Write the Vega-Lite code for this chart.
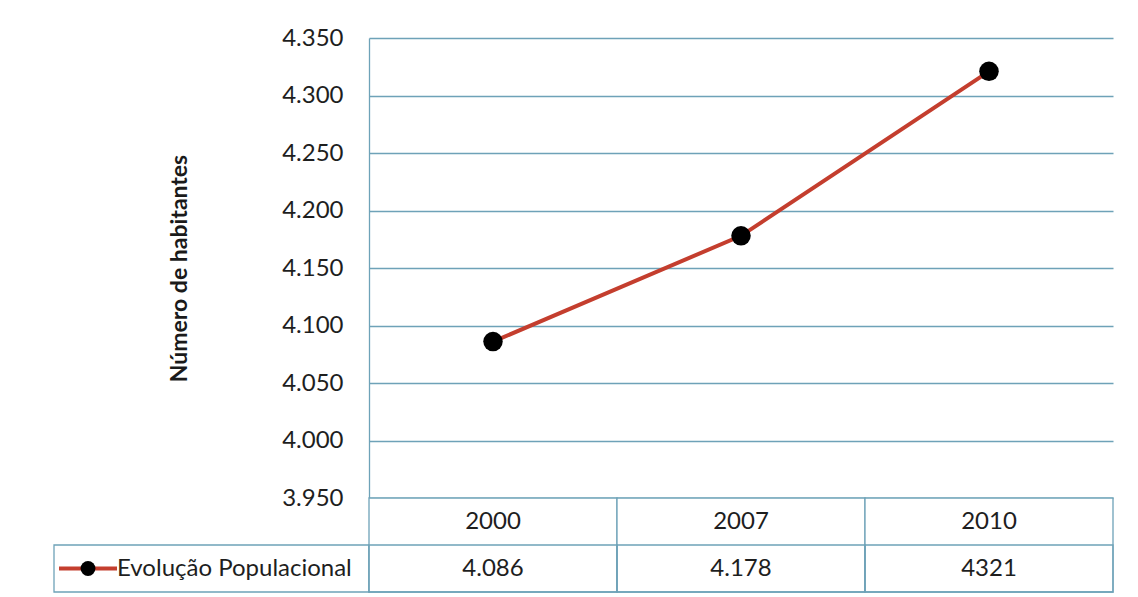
{
  "$schema": "https://vega.github.io/schema/vega-lite/v6.json",
  "background": "white",
  "padding": {"left": 51, "top": 26, "right": 0, "bottom": 0},
  "datasets": {
    "populacao": [
      {"ano": "2000", "habitantes": 4086, "rotulo": "4.086"},
      {"ano": "2007", "habitantes": 4178, "rotulo": "4.178"},
      {"ano": "2010", "habitantes": 4321, "rotulo": "4321"}
    ],
    "legenda": [
      {"serie": "Evolução Populacional"}
    ]
  },
  "columns": 2,
  "spacing": 0,
  "bounds": "flush",
  "concat": [
    {
      "width": 315,
      "height": 460,
      "data": {"values": []},
      "mark": {"type": "text"},
      "encoding": {}
    },
    {
      "width": 744,
      "height": 460,
      "data": {"name": "populacao"},
      "encoding": {
        "x": {
          "field": "ano",
          "type": "ordinal",
          "scale": {"paddingInner": 0, "paddingOuter": 0},
          "axis": null
        },
        "y": {
          "field": "habitantes",
          "type": "quantitative",
          "scale": {"domain": [3950, 4350], "nice": false, "zero": false},
          "axis": {
            "values": [3950, 4000, 4050, 4100, 4150, 4200, 4250, 4300, 4350],
            "labelExpr": "replace(format(datum.value, ','), ',', '.')",
            "title": "Número de habitantes",
            "titleFontSize": 23,
            "titleFontWeight": "bold",
            "titleColor": "#1a1a1a",
            "titleFont": "Lato",
            "titlePadding": 90,
            "labelFont": "Lato",
            "labelFontSize": 24,
            "labelColor": "#1e1e1e",
            "labelPadding": 26,
            "ticks": false,
            "domainColor": "#6ea2b8",
            "domainWidth": 1.3,
            "grid": true,
            "gridColor": "#6ea2b8",
            "gridWidth": 1.3,
            "gridOpacity": 1
          }
        }
      },
      "layer": [
        {
          "mark": {"type": "line", "color": "#c43e2e", "strokeWidth": 4}
        },
        {
          "mark": {"type": "point", "filled": true, "color": "#000000", "opacity": 1, "size": 380}
        }
      ]
    },
    {
      "width": 315,
      "height": 94,
      "data": {"name": "legenda"},
      "encoding": {
        "x": {
          "field": "serie",
          "type": "nominal",
          "scale": {"paddingInner": 0, "paddingOuter": 0},
          "axis": null
        },
        "y": {
          "datum": "valor",
          "type": "nominal",
          "scale": {"domain": ["ano", "valor"], "paddingInner": 0, "paddingOuter": 0},
          "axis": null
        }
      },
      "layer": [
        {
          "mark": {"type": "rect", "fill": "white", "stroke": "#6ea2b8", "strokeWidth": 1.3}
        },
        {
          "mark": {"type": "point", "shape": "M-1,0L1,0", "size": 3364, "stroke": "#c43e2e", "strokeWidth": 4, "opacity": 1},
          "encoding": {
            "x": {"field": "serie", "type": "nominal", "bandPosition": 0.108}
          }
        },
        {
          "mark": {"type": "point", "filled": true, "color": "#000000", "opacity": 1, "size": 220},
          "encoding": {
            "x": {"field": "serie", "type": "nominal", "bandPosition": 0.108}
          }
        },
        {
          "mark": {"type": "text", "align": "left", "baseline": "middle", "font": "Lato", "fontSize": 24, "color": "#1e1e1e"},
          "encoding": {
            "x": {"field": "serie", "type": "nominal", "bandPosition": 0.2},
            "text": {"field": "serie"}
          }
        }
      ]
    },
    {
      "width": 744,
      "height": 94,
      "data": {"name": "populacao"},
      "encoding": {
        "x": {
          "field": "ano",
          "type": "ordinal",
          "scale": {"paddingInner": 0, "paddingOuter": 0},
          "axis": null
        }
      },
      "layer": [
        {
          "mark": {"type": "rect", "fill": "white", "stroke": "#6ea2b8", "strokeWidth": 1.3}
        },
        {
          "mark": {"type": "rect", "fill": "transparent", "stroke": "#6ea2b8", "strokeWidth": 1.3},
          "encoding": {
            "y": {
              "datum": "valor",
              "type": "nominal",
              "scale": {"domain": ["ano", "valor"], "paddingInner": 0, "paddingOuter": 0},
              "axis": null
            }
          }
        },
        {
          "mark": {"type": "text", "baseline": "middle", "font": "Lato", "fontSize": 24, "color": "#1e1e1e"},
          "encoding": {
            "y": {"datum": "ano", "type": "nominal"},
            "text": {"field": "ano"}
          }
        },
        {
          "mark": {"type": "text", "baseline": "middle", "font": "Lato", "fontSize": 24, "color": "#1e1e1e"},
          "encoding": {
            "y": {"datum": "valor", "type": "nominal"},
            "text": {"field": "rotulo"}
          }
        }
      ]
    }
  ],
  "config": {
    "view": {"stroke": null},
    "concat": {"spacing": 0}
  }
}
